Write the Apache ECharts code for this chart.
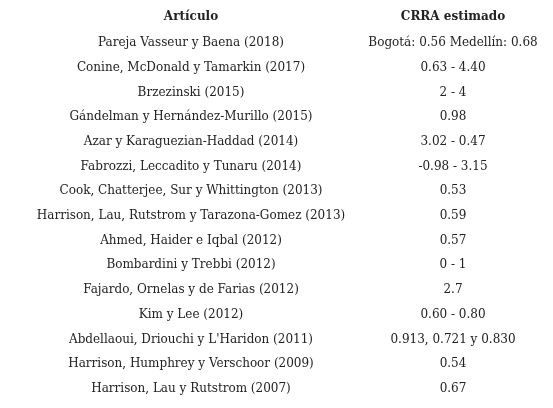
<!DOCTYPE html><html><head><meta charset="utf-8">
<script src="https://cdn.jsdelivr.net/npm/echarts@6/dist/echarts.min.js"></script>
<style>html,body{margin:0;background:#fff}#c{width:553px;height:408px}</style></head><body><div id="c"></div><script>
const headers=["Artículo","CRRA estimado"];
const articulos=["Pareja Vasseur y Baena (2018)","Conine, McDonald y Tamarkin (2017)","Brzezinski (2015)","Gándelman y Hernández-Murillo (2015)","Azar y Karaguezian-Haddad (2014)","Fabrozzi, Leccadito y Tunaru (2014)","Cook, Chatterjee, Sur y Whittington (2013)","Harrison, Lau, Rutstrom y Tarazona-Gomez (2013)","Ahmed, Haider e Iqbal (2012)","Bombardini y Trebbi (2012)","Fajardo, Ornelas y de Farias (2012)","Kim y Lee (2012)","Abdellaoui, Driouchi y L'Haridon (2011)","Harrison, Humphrey y Verschoor (2009)","Harrison, Lau y Rutstrom (2007)"];
const crra=["Bogotá: 0.56 Medellín: 0.68","0.63 - 4.40","2 - 4","0.98","3.02 - 0.47","-0.98 - 3.15","0.53","0.59","0.57","0 - 1","2.7","0.60 - 0.80","0.913, 0.721 y 0.830","0.54","0.67"];
const ch=echarts.init(document.getElementById('c'));
const font='"DejaVu Serif", serif';
const els=[];
const cx=[191,453];
headers.forEach((h,i)=>els.push({type:'text',x:cx[i],y:17,style:{text:h,font:'bold 12px '+font,fill:'#222',align:'center',verticalAlign:'middle'}}));
articulos.forEach((a,i)=>{
 const y=43+i*24.7;
 els.push({type:'text',x:cx[0],y:y,style:{text:a,font:'12px '+font,fill:'#222',align:'center',verticalAlign:'middle'}});
 els.push({type:'text',x:cx[1],y:y,style:{text:crra[i],font:'12px '+font,fill:'#222',align:'center',verticalAlign:'middle'}});
});
ch.setOption({graphic:{elements:els}});
</script></body></html>
